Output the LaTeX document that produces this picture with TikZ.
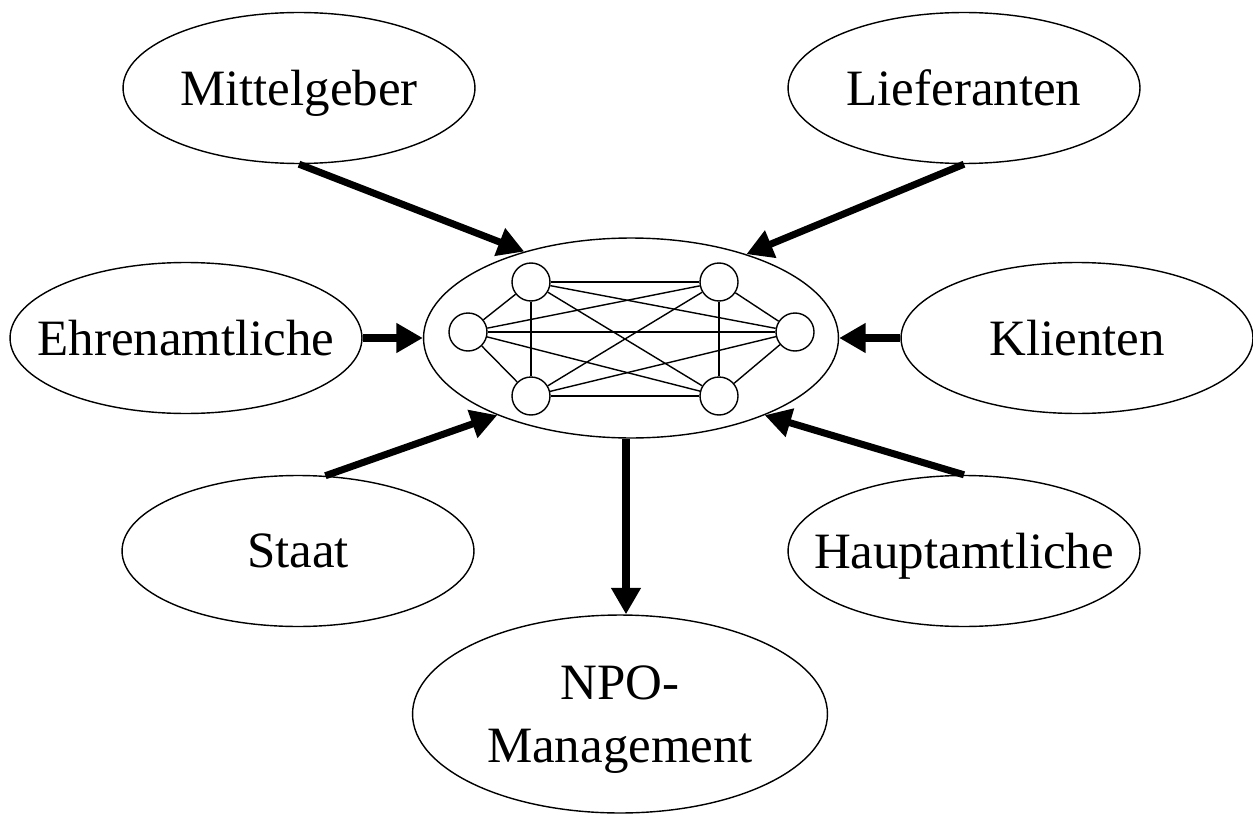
\documentclass[tikz,border=0pt]{standalone}
\usepackage{fontspec}
\setmainfont{Liberation Serif}
\usetikzlibrary{shapes.geometric, arrows.meta}

\tikzset{
    party/.style={ellipse, draw, line width=0.8pt, inner sep=0pt,
        minimum width=7.04cm, minimum height=3.02cm, text depth=0pt,
        font=\fontsize{29}{35.5}\selectfont},
    dot/.style={circle, draw, line width=0.8pt, inner sep=0pt, minimum size=0.76cm},
    push/.style={line width=4pt, -{Triangle[length=15pt, width=16pt]}}
}
\newcommand{\lbl}[1]{\makebox[0pt]{#1}}

\begin{document}
\begin{tikzpicture}[x=0.02cm, y=-0.02cm]
        \useasboundingbox (0,0) rectangle (1253,814);

        % Nodes
        \node (mittel) [party] at (299, 88) {\lbl{Mittelgeber}};
        \node (liefer) [party] at (964, 88) {\lbl{Lieferanten}};
        \node (ehren) [party] at (186, 338) {\lbl{Ehrenamtliche}};
        \node (klient) [party] at (1077, 338) {\lbl{Klienten}};
        \node (staat) [party] at (298, 551) {\lbl{Staat}};
        \node (haupt) [party] at (964, 551) {\lbl{Hauptamtliche}};
        \node (org) [party, minimum width=8.3cm, minimum height=4cm] at (631, 338) {};
        \node (npo) [party, align=center, minimum width=8.3cm, minimum height=3.96cm]
            at (620, 714) {NPO-\\Management};

        % Members inside the organisation
        \node (n1) [dot] at (531, 282) {};
        \node (n2) [dot] at (719, 282) {};
        \node (n3) [dot] at (468, 332) {};
        \node (n4) [dot] at (795, 332) {};
        \node (n5) [dot] at (531, 396) {};
        \node (n6) [dot] at (719, 396) {};

        % Edges
        \foreach \a/\b in {n1/n2, n1/n3, n1/n4, n1/n5, n1/n6,
                           n2/n3, n2/n4, n2/n5, n2/n6,
                           n3/n4, n3/n5, n3/n6,
                           n4/n5, n4/n6, n5/n6}
            \draw[line width=0.8pt] (\a) -- (\b);

        \draw[push] (mittel.south) -- (org.141);
        \draw[push] (liefer.south) -- (org.36);
        \draw[push] (ehren.east) -- (org.west);
        \draw[push] (klient.west) -- (org.east);
        \draw[push] (staat.70) -- (org.210);
        \draw[push] (haupt.north) -- (org.330);
        \draw[push] ([xshift=-0.1cm]org.south) -- ([xshift=-0.1cm]org.south |- npo.north);

    \end{tikzpicture}
\end{document}
